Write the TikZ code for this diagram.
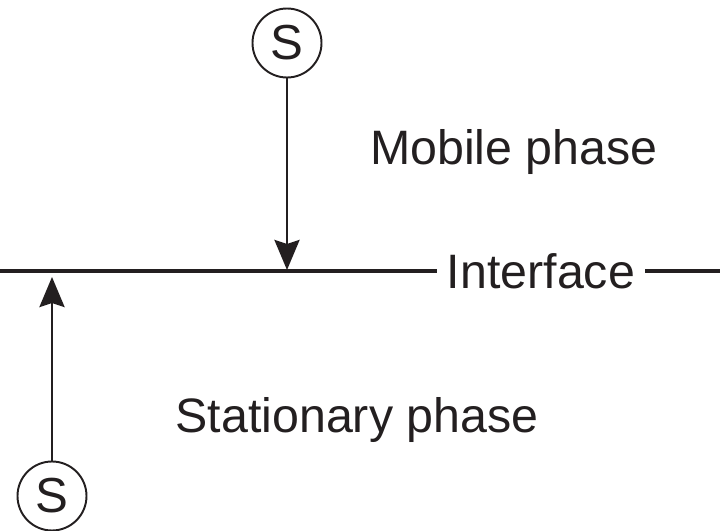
\documentclass[tikz,border=0pt]{standalone}
\usepackage{fontspec}
\setmainfont{Liberation Sans}
\definecolor{phInk}{HTML}{231F20}
\usepackage{tikz}
\usetikzlibrary{positioning,arrows.meta}

\tikzset{
  solute/.style={draw=phInk, line width=1.1pt, circle, minimum size=1.38cm, inner sep=0pt,
    font=\fontsize{28}{32}\selectfont, text=phInk},
  phaselabel/.style={font=\fontsize{27.5}{32}\selectfont, text=phInk},
  transfer/.style={draw=phInk, line width=1.6pt,
    -{Stealth[length=0.6cm, width=0.5cm, inset=0.08cm]}}
}

\begin{document}
\begin{tikzpicture}
  \useasboundingbox (0,0) rectangle (14.4,10.62);

  % -- Interface line --
  \node[phaselabel, inner xsep=0.2cm] (iface) at (10.82,5.2) {Interface};
  \coordinate (ifaceL) at (0,5.2);
  \coordinate (ifaceR) at (14.4,5.2);
  \draw[phInk, line width=2pt] (ifaceL) -- (iface.west);
  \draw[phInk, line width=2pt] (iface.east) -- (ifaceR);

  % -- Phase labels --
  \node[phaselabel] (mobile) at (10.28,7.58) {Mobile phase};
  \node[phaselabel] (stationary) at (7.14,2.22) {Stationary phase};

  % -- Solute molecules --
  \node[solute] (sTop) at (5.74,9.76) {S};
  \node[solute] (sBot) at (1.04,0.7) {S};
  \coordinate (hitTop) at (5.74,5.22);
  \coordinate (hitBot) at (1.04,5.08);
  \draw[transfer] (sTop) -- (hitTop);
  \draw[transfer] (sBot) -- (hitBot);
\end{tikzpicture}
\end{document}
